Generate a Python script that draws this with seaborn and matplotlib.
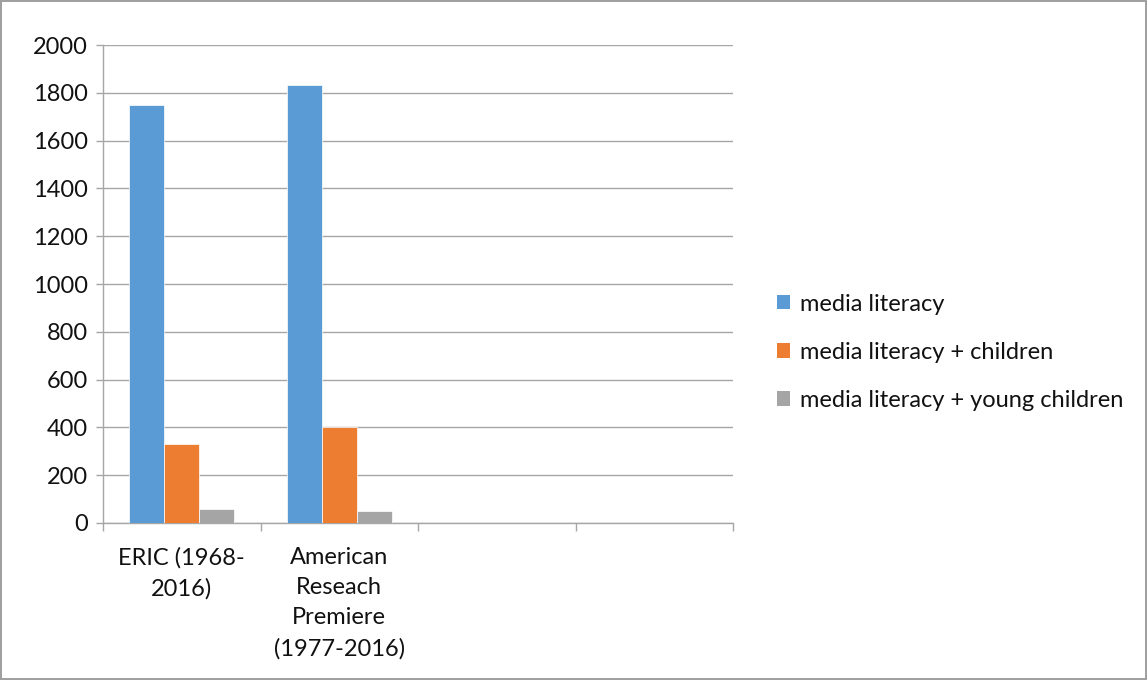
import matplotlib
matplotlib.use("Agg")
import matplotlib.pyplot as plt
import seaborn as sns
import pandas as pd
from matplotlib.patches import Patch

categories = ["ERIC (1968-\n2016)", "American\nReseach\nPremiere\n(1977-2016)"]
slots = categories + ["_empty1", "_empty2"]
series = ["media literacy", "media literacy + children", "media literacy + young children"]
media_literacy = [1748, 1832]
media_children = [330, 400]
media_young = [57, 50]
colors = ["#5B9BD5", "#ED7D31", "#A5A5A5"]

rows = []
for s, vals in zip(series, [media_literacy, media_children, media_young]):
    for c, v in zip(categories, vals):
        rows.append({"cat": c, "series": s, "value": v})
df = pd.DataFrame(rows)

sns.set_theme(style="white")
plt.rcParams["font.family"] = ["Lato", "DejaVu Sans"]

FS = 17

fig = plt.figure(figsize=(11.47, 6.80), dpi=100)
fig.patch.set_edgecolor("#a0a0a0")
fig.patch.set_linewidth(1.5)
ax = fig.add_axes([0.0898, 0.2309, 0.5495, 0.7029])

sns.barplot(data=df, x="cat", y="value", hue="series", order=slots,
            hue_order=series, palette=colors, saturation=1, width=0.667, ax=ax,
            edgecolor="white", linewidth=0.5, legend=False, zorder=3)

ax.set_xlim(-0.5, 3.5)
ax.set_ylim(0, 2000)
ax.set_yticks(range(0, 2001, 200))
ax.yaxis.grid(True, color="#a6a6a6", linewidth=1.0, zorder=0)
ax.tick_params(axis="y", length=5, color="#a6a6a6", width=1.0, labelsize=FS, pad=6, left=True)
ax.set_yticklabels([str(v) for v in range(0, 2001, 200)], color="#111111")

ax.set_xticks([-0.5, 0.5, 1.5, 2.5, 3.5])
ax.set_xticklabels([])
ax.set_xticks([0, 1], minor=True)
ax.set_xticklabels(categories, minor=True, fontsize=FS, color="#111111", linespacing=1.55, va="top")
ax.tick_params(axis="x", which="major", length=6, color="#a6a6a6", width=1.0, bottom=True)
ax.tick_params(axis="x", which="minor", length=0, pad=17)
ax.set_xlabel("")
ax.set_ylabel("")

for side in ["top", "right"]:
    ax.spines[side].set_visible(False)
for side in ["left", "bottom"]:
    ax.spines[side].set_color("#a6a6a6")
    ax.spines[side].set_linewidth(1.0)

handles = [Patch(facecolor=c, edgecolor="none") for c in colors]
fig.legend(handles, series, loc="center left", bbox_to_anchor=(0.659, 0.482),
           frameon=False, fontsize=FS, handlelength=0.55, handleheight=0.55,
           handletextpad=0.4, labelspacing=1.15, labelcolor="#111111")

fig.savefig("out.png", dpi=100)
